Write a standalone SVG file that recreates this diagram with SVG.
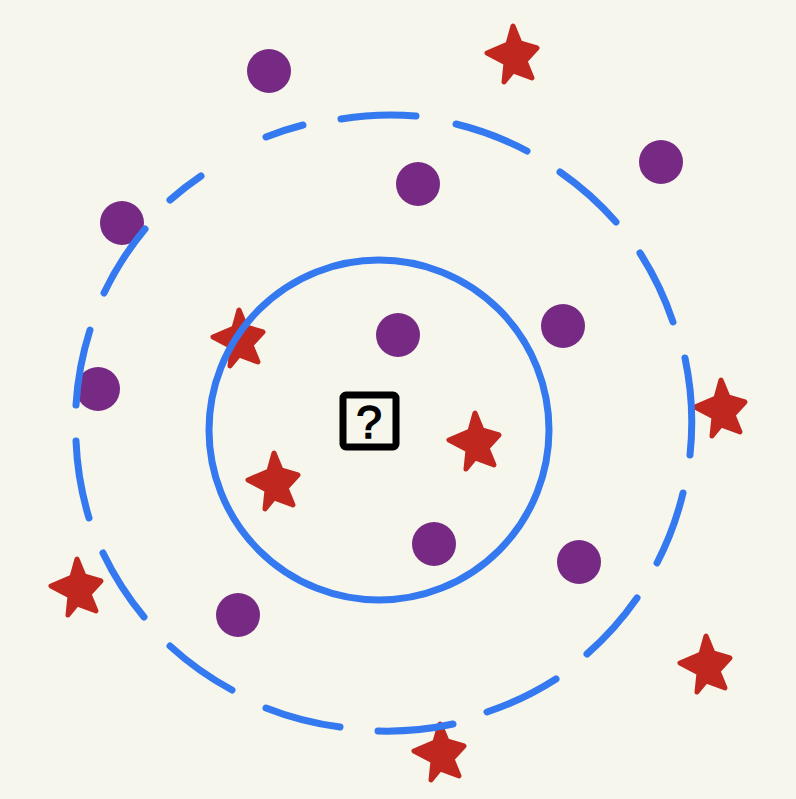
<svg xmlns="http://www.w3.org/2000/svg" width="796" height="799" viewBox="0 0 796 799">
<style>
.dot{fill:#772a84}
.star{fill:#c0281f;stroke:#c0281f;stroke-width:5;stroke-linejoin:round}
.ring{fill:none;stroke:#3479f0;stroke-width:7;stroke-linecap:round}
.q{font-family:"Liberation Sans",Arial,sans-serif;font-size:46px;font-weight:normal;fill:#000;stroke:#000;stroke-width:1.5}
</style>
<defs>
<path id="starShape" d="M-1,-30 L-6,-12 L-27,-3 L-8,7 L-10,26 L-1,15 L18,22 L11,5 L23,-8 L6,-13 Z"/>
</defs>
<rect width="796" height="799" fill="#f6f6ec"/>
<g id="dots">
<circle id="dot1" class="dot" cx="269" cy="71" r="22"/>
<circle id="dot2" class="dot" cx="418" cy="184" r="22"/>
<circle id="dot3" class="dot" cx="661" cy="162" r="22"/>
<circle id="dot4" class="dot" cx="122" cy="223" r="22"/>
<circle id="dot5" class="dot" cx="398" cy="335" r="22"/>
<circle id="dot6" class="dot" cx="563" cy="326" r="22"/>
<circle id="dot7" class="dot" cx="98" cy="389" r="22"/>
<circle id="dot8" class="dot" cx="434" cy="544" r="22"/>
<circle id="dot9" class="dot" cx="579" cy="562" r="22"/>
<circle id="dot10" class="dot" cx="238" cy="615" r="22"/>
</g>
<g id="stars">
<use id="star1" class="star" href="#starShape" transform="translate(514,56)"/>
<use id="star2" class="star" href="#starShape" transform="translate(240,340)"/>
<use id="star3" class="star" href="#starShape" transform="translate(476,443)"/>
<use id="star4" class="star" href="#starShape" transform="translate(275,483)"/>
<use id="star5" class="star" href="#starShape" transform="translate(722,410)"/>
<use id="star6" class="star" href="#starShape" transform="translate(78,589)"/>
<use id="star7" class="star" href="#starShape" transform="translate(707,666)"/>
<use id="star8" class="star" href="#starShape" transform="translate(441,754)"/>
</g>
<g id="rings">
<circle id="inner-ring" class="ring" cx="379" cy="430" r="170"/>
<path id="outer-ring" class="ring" d="M266,137 A308,308 0 0 1 303,125 M341,119 A308,308 0 0 1 416,116 M456,124 A308,308 0 0 1 527,151 M560,172 A308,308 0 0 1 616,222 M640,253 A308,308 0 0 1 673,322 M685,358 A308,308 0 0 1 690,455 M683,493 A308,308 0 0 1 657,563 M637,598 A308,308 0 0 1 587,654 M556,679 A308,308 0 0 1 487,712 M453,724 A308,308 0 0 1 378,731 M340,727 A308,308 0 0 1 266,708 M232,690 A308,308 0 0 1 170,646 M144,617 A308,308 0 0 1 103,553 M89,518 A308,308 0 0 1 76,441 M76,405 A308,308 0 0 1 90,330 M104,293 A308,308 0 0 1 145,229 M170,200 A308,308 0 0 1 201,176"/>
</g>
<g id="query">
<rect x="343" y="395" width="53" height="52" rx="3" fill="#f6f6ec" stroke="#000" stroke-width="7"/>
<text class="q" x="369" y="438" text-anchor="middle">?</text>
</g>
</svg>
